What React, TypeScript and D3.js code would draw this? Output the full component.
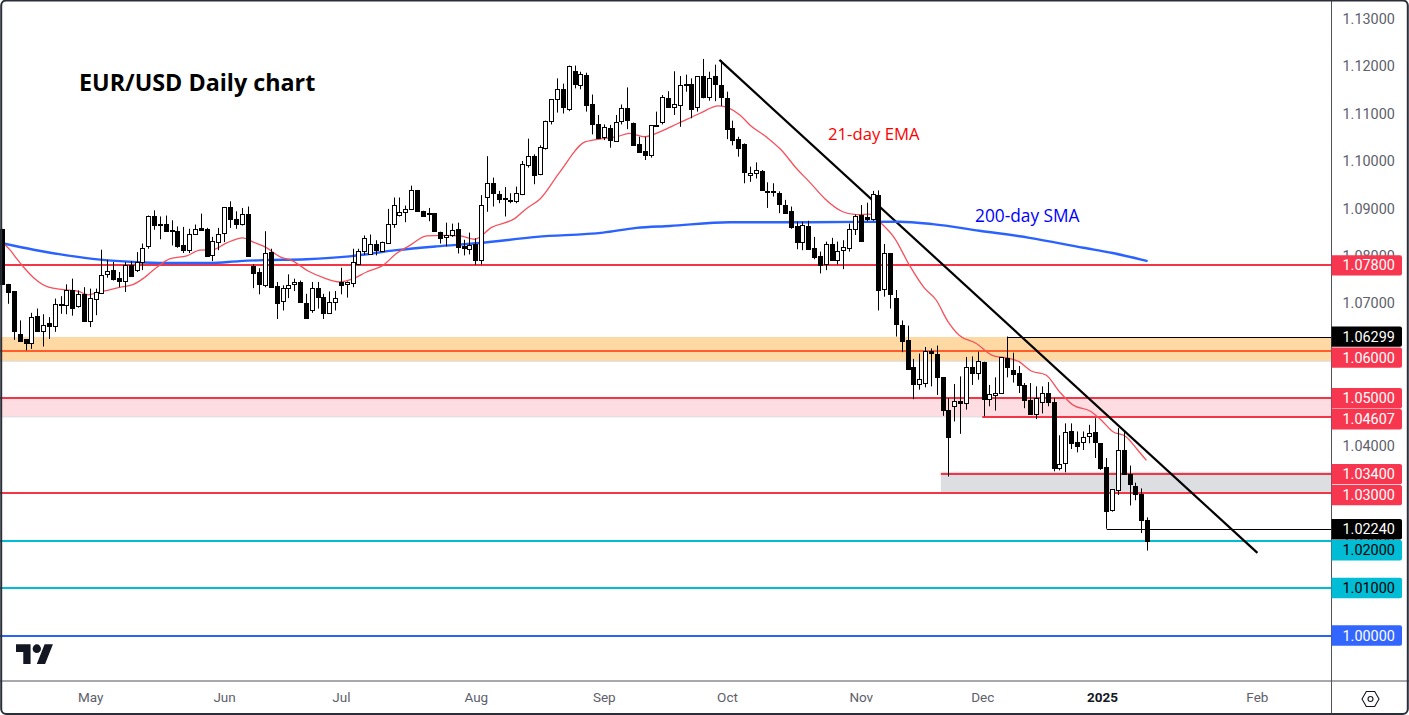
import * as d3 from "d3";
import React, { useEffect, useRef } from "react";

// daily candles, one per trading day
const opens = [
    1.0857,1.0741,1.0725,1.0636,1.0624,1.0616,1.0673,1.0642,1.0659,1.0652,
    1.0699,1.0697,1.0729,1.0694,1.0720,1.0663,1.0710,1.0722,1.0762,1.0771,
    1.0754,1.0747,1.0781,1.0771,1.0788,1.0821,1.0883,1.0868,1.0868,1.0855,
    1.0853,1.0822,1.0813,1.0847,1.0859,1.0857,1.0802,1.0831,1.0849,1.0904,
    1.0878,1.0868,1.0889,1.0778,1.0765,1.0739,1.0809,1.0737,1.0705,1.0733,
    1.0739,1.0744,1.0701,1.0687,1.0732,1.0713,1.0680,1.0703,1.0745,1.0739,
    1.0743,1.0783,1.0811,1.0802,1.0824,1.0811,1.0827,1.0868,1.0887,1.0893,
    1.0897,1.0938,1.0895,1.0890,1.0890,1.0851,1.0841,1.0845,1.0857,1.0820,
    1.0815,1.0824,1.0793,1.0923,1.0953,1.0930,1.0921,1.0917,1.0916,1.0930,
    1.0991,1.1011,1.0972,1.1029,1.1083,1.1130,1.1151,1.1111,1.1189,1.1161,
    1.1182,1.1119,1.1077,1.1049,1.1069,1.1043,1.1083,1.1111,1.1081,1.1036,
    1.1020,1.1012,1.1075,1.1081,1.1132,1.1112,1.1118,1.1163,1.1163,1.1114,
    1.1178,1.1134,1.1179,1.1161,1.1132,1.1069,1.1047,1.1035,1.0970,1.0974,
    1.0978,1.0937,1.0937,1.0932,1.0908,1.0894,1.0863,1.0830,1.0863,1.0816,
    1.0799,1.0783,1.0826,1.0793,1.0811,1.0816,1.0856,1.0886,1.0882,1.0878,
    1.0928,1.0730,1.0806,1.0711,1.0654,1.0622,1.0565,1.0530,1.0531,1.0599,
    1.0593,1.0544,1.0475,1.0483,1.0494,1.0490,1.0566,1.0553,1.0577,1.0498,
    1.0506,1.0511,1.0585,1.0560,1.0553,1.0527,1.0497,1.0468,1.0490,1.0511,
    1.0492,1.0353,1.0362,1.0430,1.0408,1.0409,1.0419,1.0429,1.0405,1.0355,
    1.0263,1.0307,1.0391,1.0340,1.0315,1.0299,1.0243,
];
const closes = [
    1.0741,1.0724,1.0640,1.0622,1.0616,1.0671,1.0642,1.0655,1.0652,1.0699,
    1.0699,1.0729,1.0691,1.0720,1.0663,1.0712,1.0724,1.0760,1.0769,1.0753,
    1.0747,1.0781,1.0758,1.0788,1.0817,1.0885,1.0865,1.0868,1.0854,1.0853,
    1.0821,1.0812,1.0847,1.0857,1.0854,1.0800,1.0831,1.0847,1.0903,1.0878,
    1.0868,1.0889,1.0800,1.0764,1.0739,1.0807,1.0736,1.0701,1.0733,1.0739,
    1.0744,1.0701,1.0669,1.0733,1.0713,1.0680,1.0703,1.0712,1.0739,1.0744,
    1.0788,1.0811,1.0838,1.0824,1.0812,1.0830,1.0868,1.0908,1.0893,1.0899,
    1.0938,1.0894,1.0884,1.0889,1.0852,1.0838,1.0845,1.0855,1.0819,1.0815,
    1.0823,1.0790,1.0908,1.0953,1.0931,1.0920,1.0920,1.0917,1.0932,1.0993,
    1.1011,1.0972,1.1029,1.1085,1.1130,1.1151,1.1113,1.1201,1.1161,1.1184,
    1.1118,1.1076,1.1047,1.1071,1.1043,1.1083,1.1111,1.1085,1.1035,1.1019,
    1.1012,1.1075,1.1076,1.1134,1.1112,1.1119,1.1161,1.1163,1.1110,1.1179,
    1.1133,1.1175,1.1162,1.1135,1.1067,1.1044,1.1029,1.0975,1.0974,1.0980,
    1.0937,1.0937,1.0936,1.0908,1.0891,1.0861,1.0830,1.0866,1.0814,1.0798,
    1.0781,1.0826,1.0793,1.0811,1.0818,1.0856,1.0883,1.0832,1.0878,1.0930,
    1.0728,1.0806,1.0719,1.0656,1.0621,1.0560,1.0530,1.0540,1.0599,1.0594,
    1.0544,1.0474,1.0419,1.0494,1.0490,1.0565,1.0554,1.0578,1.0498,1.0508,
    1.0511,1.0587,1.0567,1.0551,1.0527,1.0495,1.0468,1.0501,1.0510,1.0491,
    1.0353,1.0362,1.0428,1.0405,1.0400,1.0419,1.0426,1.0407,1.0353,1.0263,
    1.0308,1.0391,1.0340,1.0319,1.0299,1.0245,1.0199,
];
const highs = [
    1.0857,1.0741,1.0725,1.0664,1.0624,1.0680,1.0689,1.0677,1.0671,1.0710,
    1.0715,1.0740,1.0752,1.0727,1.0734,1.0731,1.0731,1.0813,1.0792,1.0787,
    1.0766,1.0787,1.0789,1.0808,1.0826,1.0885,1.0896,1.0883,1.0885,1.0875,
    1.0862,1.0861,1.0857,1.0866,1.0889,1.0859,1.0840,1.0859,1.0903,1.0915,
    1.0894,1.0901,1.0904,1.0782,1.0774,1.0852,1.0815,1.0745,1.0738,1.0761,
    1.0752,1.0748,1.0720,1.0745,1.0745,1.0720,1.0725,1.0726,1.0775,1.0746,
    1.0815,1.0815,1.0843,1.0845,1.0833,1.0830,1.0899,1.0923,1.0923,1.0906,
    1.0948,1.0939,1.0895,1.0901,1.0890,1.0851,1.0870,1.0868,1.0870,1.0834,
    1.0849,1.0837,1.0928,1.1010,1.0965,1.0937,1.0945,1.0932,1.0946,1.1000,
    1.1047,1.1014,1.1033,1.1085,1.1130,1.1174,1.1163,1.1201,1.1201,1.1188,
    1.1186,1.1140,1.1097,1.1077,1.1076,1.1097,1.1119,1.1155,1.1081,1.1051,
    1.1051,1.1075,1.1104,1.1139,1.1147,1.1189,1.1179,1.1182,1.1174,1.1179,
    1.1215,1.1188,1.1203,1.1212,1.1146,1.1085,1.1051,1.1037,1.0988,1.0997,
    1.0981,1.0955,1.0953,1.0936,1.0918,1.0904,1.0872,1.0872,1.0874,1.0840,
    1.0809,1.0830,1.0838,1.0830,1.0833,1.0868,1.0887,1.0907,1.0912,1.0937,
    1.0938,1.0825,1.0806,1.0728,1.0664,1.0653,1.0583,1.0594,1.0608,1.0605,
    1.0611,1.0544,1.0500,1.0530,1.0546,1.0587,1.0588,1.0598,1.0577,1.0528,
    1.0544,1.0587,1.0630,1.0596,1.0568,1.0532,1.0532,1.0525,1.0525,1.0534,
    1.0500,1.0422,1.0447,1.0447,1.0430,1.0430,1.0444,1.0458,1.0405,1.0374,
    1.0308,1.0437,1.0433,1.0358,1.0322,1.0310,1.0249,
];
const lows = [
    1.0741,1.0699,1.0623,1.0622,1.0601,1.0604,1.0642,1.0609,1.0625,1.0640,
    1.0678,1.0677,1.0674,1.0691,1.0663,1.0650,1.0675,1.0722,1.0754,1.0748,
    1.0734,1.0724,1.0758,1.0766,1.0770,1.0815,1.0855,1.0835,1.0854,1.0822,
    1.0817,1.0806,1.0806,1.0845,1.0854,1.0800,1.0789,1.0812,1.0829,1.0859,
    1.0857,1.0864,1.0800,1.0732,1.0719,1.0734,1.0733,1.0667,1.0685,1.0711,
    1.0726,1.0701,1.0669,1.0680,1.0689,1.0667,1.0678,1.0685,1.0719,1.0712,
    1.0734,1.0780,1.0802,1.0802,1.0801,1.0811,1.0827,1.0859,1.0883,1.0871,
    1.0897,1.0894,1.0884,1.0873,1.0852,1.0826,1.0820,1.0840,1.0805,1.0801,
    1.0803,1.0781,1.0782,1.0893,1.0904,1.0911,1.0883,1.0911,1.0911,1.0928,
    1.0986,1.0951,1.0970,1.1024,1.1077,1.1102,1.1100,1.1105,1.1153,1.1151,
    1.1104,1.1056,1.1047,1.1044,1.1028,1.1040,1.1077,1.1067,1.1035,1.1019,
    1.1002,1.1007,1.1073,1.1077,1.1112,1.1097,1.1072,1.1146,1.1090,1.1104,
    1.1132,1.1127,1.1126,1.1116,1.1046,1.1033,1.1009,1.0953,1.0956,1.0963,
    1.0937,1.0901,1.0925,1.0890,1.0890,1.0857,1.0814,1.0812,1.0814,1.0793,
    1.0763,1.0770,1.0793,1.0782,1.0772,1.0809,1.0844,1.0832,1.0873,1.0874,
    1.0685,1.0714,1.0689,1.0630,1.0597,1.0560,1.0498,1.0518,1.0523,1.0525,
    1.0507,1.0463,1.0335,1.0451,1.0425,1.0476,1.0528,1.0539,1.0462,1.0483,
    1.0474,1.0511,1.0544,1.0533,1.0511,1.0479,1.0465,1.0456,1.0468,1.0483,
    1.0346,1.0348,1.0344,1.0393,1.0386,1.0391,1.0405,1.0374,1.0349,1.0225,
    1.0261,1.0296,1.0339,1.0274,1.0285,1.0216,1.0179,
];

// moving averages, read at the bar position given by the matching index array
const emaBars = [0.15,1.3,2.4,3.6,5.3,7.85,10.4,13,14.7,16.1,17.8,19.8,22.4,24,26.4,28.7,31.5,33.8,36,38.3,41.1,42.9,44.9,47.5,49.7,52.3,54.9,57.7,60,62.3,65.1,67.4,69.7,72.6,75.4,78.3,80.8,83.7,87.7,89.7,92,95.4,99.7,102.8,105.1,107.3,109.9,112.8,115.6,119.3,122.5,126.2,127.9,130.7,133.3,135.9,138.1,140.7,143.8,146.1,148.4,150.7,152.7,155.2,157.8,159.8,161.8,163.8,166.6,169.5,172.3,174,176,178.6,180.9,183.2,186.3,188.3,190,192.3,194.3,195.8];
const emaValues = [1.0826,1.0812,1.0794,1.0776,1.0754,1.0734,1.0729,1.0725,1.0718,1.0722,1.0727,1.0733,1.0740,1.0752,1.0776,1.0794,1.0800,1.0812,1.0813,1.0827,1.0838,1.0829,1.0819,1.0798,1.0789,1.0768,1.0754,1.0745,1.0752,1.0766,1.0780,1.0805,1.0822,1.0842,1.0843,1.0842,1.0835,1.0860,1.0879,1.0900,1.0920,1.0977,1.1040,1.1047,1.1051,1.1058,1.1051,1.1063,1.1079,1.1100,1.1116,1.1097,1.1076,1.1051,1.1023,1.0984,1.0956,1.0921,1.0893,1.0887,1.0888,1.0865,1.0837,1.0781,1.0732,1.0707,1.0662,1.0632,1.0616,1.0590,1.0584,1.0577,1.0558,1.0549,1.0514,1.0486,1.0472,1.0451,1.0430,1.0419,1.0391,1.0369];
const smaBars = [0.15,5.3,11,16.7,22.4,28.1,35.5,40.6,44.6,52,59.4,67.4,74.3,81.7,91.4,102.8,108.5,114.2,124.4,138.1,153.5,159.2,167.2,175.8,185,190,196];
const smaValues = [1.0826,1.0813,1.0801,1.0792,1.0787,1.0785,1.0785,1.0789,1.0791,1.0793,1.0799,1.0812,1.0820,1.0827,1.0840,1.0849,1.0859,1.0863,1.0871,1.0871,1.0872,1.0867,1.0853,1.0838,1.0817,1.0806,1.0789];

// horizontal levels and their tags on the price scale
const levelPrices = [1.078, 1.06299, 1.06, 1.05, 1.04607, 1.034, 1.03, 1.0224, 1.02, 1.01, 1.0];
const levelLabels = ["1.07800", "1.06299", "1.06000", "1.05000", "1.04607", "1.03400", "1.03000", "1.02240", "1.02000", "1.01000", "1.00000"];
const levelStartBars = [-2, 172, -2, -2, 167.7, 160.6, -2, 189, -2, -2, -2];
const levelKinds = ["red", "black", "orange", "red", "red", "red", "red", "black", "cyan", "cyan", "blue"];

const zoneTops = [1.0629, 1.05, 1.0345];
const zoneBottoms = [1.0578, 1.04607, 1.03];
const zoneStartBars = [-2, -2, 160.6];
const zoneFills = ["#fed9a3", "#fddde1", "#dcdee2"];

const trendBars = [122.7, 214.8];
const trendPrices = [1.1213, 1.0174];

// 1.06, 1.05, 1.03, 1.01 and 1.00 sit fully behind the level tags
const priceTicks = [1.13, 1.12, 1.11, 1.10, 1.09, 1.08, 1.07, 1.04, 1.02];
const monthLabels = ["May", "Jun", "Jul", "Aug", "Sep", "Oct", "Nov", "Dec", "2025", "Feb"];
const monthBars = [15, 37.9, 57.9, 81, 102.9, 124, 146.9, 167.7, 188.2, 214.7];

const kindColors: any = {
    red: "#f23645",
    black: "#000000",
    orange: "#ff5d2b",
    cyan: "#00bcd4",
    blue: "#2962ff",
};
const tagFill = (kind: string) => (kind === "red" || kind === "orange" ? "#f7374f" : kind === "blue" ? "#3366ff" : kindColors[kind]);
const tagText = (kind: string) => (kind === "cyan" ? "#000000" : "#ffffff");

const WIDTH = 1409;
const HEIGHT = 715;
const PLOT_RIGHT = 1331.5;
const PLOT_BOTTOM = 681;
const UI_FONT = "Roboto, 'Liberation Sans', sans-serif";

export default function App() {
    const svgRef = useRef<SVGSVGElement>(null);

    useEffect(() => {
        document.body.style.margin = "0";
        const svg = d3.select(svgRef.current);
        svg.selectAll("*").remove();

        const x = d3.scaleLinear().domain([1, 196]).range([8.5, 1147.6]);
        const y = d3.scaleLinear().domain([1.0, 1.13]).range([635.5, 18.6]);

        svg.append("defs").append("clipPath").attr("id", "plot")
            .append("rect").attr("x", 0).attr("y", 0).attr("width", PLOT_RIGHT).attr("height", PLOT_BOTTOM);
        const plot = svg.append("g").attr("clip-path", "url(#plot)");

        /*
        zones and levels
         */
        zoneTops.forEach((top, i) => {
            plot.append("rect")
                .attr("x", x(zoneStartBars[i]))
                .attr("y", y(top))
                .attr("width", PLOT_RIGHT - x(zoneStartBars[i]))
                .attr("height", y(zoneBottoms[i]) - y(top))
                .attr("fill", zoneFills[i]);
            plot.append("line")
                .attr("x1", x(zoneStartBars[i])).attr("x2", PLOT_RIGHT)
                .attr("y1", y(zoneBottoms[i])).attr("y2", y(zoneBottoms[i]))
                .attr("stroke", "#d9dbe3");
        });
        levelPrices.forEach((price, i) => {
            const thin = levelKinds[i] === "black";
            const py = Math.round(y(price)) + (thin ? 0.5 : 0);
            plot.append("line")
                .attr("x1", x(levelStartBars[i])).attr("x2", PLOT_RIGHT)
                .attr("y1", py).attr("y2", py)
                .attr("stroke", kindColors[levelKinds[i]])
                .attr("stroke-width", thin ? 1 : 2);
        });

        /*
        trend line and moving averages
         */
        plot.append("line")
            .attr("x1", x(trendBars[0])).attr("y1", y(trendPrices[0]))
            .attr("x2", x(trendBars[1])).attr("y2", y(trendPrices[1]))
            .attr("stroke", "#000000").attr("stroke-width", 2.2);

        const drawAvg = (bars: number[], values: number[], color: string, width: number) => {
            const pts = bars.map((b, i) => [x(b), y(values[i])] as [number, number]);
            const path = d3.line().curve(d3.curveMonotoneX)(pts);
            plot.append("path").attr("d", path).attr("fill", "none")
                .attr("stroke", color).attr("stroke-width", width);
        };
        drawAvg(smaBars, smaValues, "#2962ff", 2.4);
        drawAvg(emaBars, emaValues, "#f6505c", 1.3);

        /*
        candles
         */
        const candles = plot.selectAll(".candle").data(opens).enter().append("g").attr("class", "candle");
        candles.append("rect")
            .attr("x", (_, i) => Math.floor(x(i)))
            .attr("width", 1)
            .attr("y", (_, i) => y(highs[i]))
            .attr("height", (_, i) => y(lows[i]) - y(highs[i]))
            .attr("fill", "#000000");
        candles.append("rect")
            .attr("x", (_, i) => Math.floor(x(i)) - 1.5)
            .attr("width", 4)
            .attr("y", (d, i) => Math.round(y(Math.max(d, closes[i]))) + 0.5)
            .attr("height", (d, i) => Math.max(1, Math.round(Math.abs(y(d) - y(closes[i])))))
            .attr("fill", (d, i) => (closes[i] >= d ? "#ffffff" : "#000000"))
            .attr("stroke", "#000000");

        /*
        axes
         */
        svg.append("rect").attr("x", PLOT_RIGHT).attr("y", 0).attr("width", WIDTH - PLOT_RIGHT).attr("height", HEIGHT).attr("fill", "#ffffff");

        const yAxis = d3.axisRight(y).tickValues(priceTicks).tickFormat(d3.format(".5f") as any).tickSize(0).tickPadding(11);
        const yG = svg.append("g").attr("transform", `translate(${PLOT_RIGHT},0)`).call(yAxis as any);
        yG.select(".domain").remove();
        yG.selectAll("text").attr("fill", "#5d606b").style("font", `14.4px ${UI_FONT}`);

        const xAxis = d3.axisBottom(x).tickValues(monthBars).tickFormat((_, i) => monthLabels[i]).tickSize(0).tickPadding(0);
        const xG = svg.append("g").attr("transform", `translate(0,${PLOT_BOTTOM + 11})`).call(xAxis as any);
        xG.select(".domain").remove();
        xG.selectAll("text")
            .attr("fill", (_, i) => (monthLabels[i] === "2025" ? "#131722" : "#5d606b"))
            .style("font", (_, i) => `${monthLabels[i] === "2025" ? "bold " : ""}13.5px ${UI_FONT}`);

        svg.append("line").attr("x1", PLOT_RIGHT).attr("x2", PLOT_RIGHT).attr("y1", 0).attr("y2", HEIGHT).attr("stroke", "#50535e");
        svg.append("line").attr("x1", 0).attr("x2", WIDTH).attr("y1", PLOT_BOTTOM).attr("y2", PLOT_BOTTOM).attr("stroke", "#50535e");

        /*
        price tags, pushed down when they would overlap
         */
        let lastBottom = -100;
        levelPrices.forEach((price, i) => {
            const centre = Math.max(y(price), lastBottom + 10.5);
            lastBottom = centre + 10.5;
            const kind = levelKinds[i];
            const path = d3.path();
            path.moveTo(PLOT_RIGHT, centre - 10.2);
            path.lineTo(1400, centre - 10.2);
            path.quadraticCurveTo(1402, centre - 10.2, 1402, centre - 8.2);
            path.lineTo(1402, centre + 8.2);
            path.quadraticCurveTo(1402, centre + 10.2, 1400, centre + 10.2);
            path.lineTo(PLOT_RIGHT, centre + 10.2);
            path.closePath();
            svg.append("path").attr("d", path.toString()).attr("fill", tagFill(kind));
            svg.append("text").attr("x", PLOT_RIGHT + 11).attr("y", centre).attr("dy", "0.35em")
                .attr("fill", tagText(kind)).style("font", `14.4px ${UI_FONT}`)
                .text(levelLabels[i]);
        });

        /*
        annotations
         */
        svg.append("text").attr("x", 79).attr("y", 91).attr("fill", "#000000")
            .style("font", "bold 23.3px 'Open Sans', sans-serif").text("EUR/USD Daily chart");
        svg.append("text").attr("x", 828).attr("y", 140).attr("fill", "#ff0000")
            .style("font", "500 16.7px 'Open Sans', sans-serif").text("21-day EMA");
        svg.append("text").attr("x", 975).attr("y", 222).attr("fill", "#0000ff")
            .style("font", "500 17.3px 'Open Sans', sans-serif").text("200-day SMA");

        /*
        logo and settings icon
         */
        const logo = svg.append("g").attr("transform", "translate(16,640) scale(1.04,1.09)").attr("fill", "#131722");
        logo.append("path").attr("d", "M14 22H7V11H0V4h14v18zM28 22h-8l7.5-18h8L28 22z");
        logo.append("circle").attr("cx", 20).attr("cy", 8).attr("r", 4);

        const hex = d3.line()([[1362, 699], [1366.3, 691.5], [1374.7, 691.5], [1379, 699], [1374.7, 706.5], [1366.3, 706.5]]);
        svg.append("path").attr("d", hex + "Z").attr("fill", "none").attr("stroke", "#131722").attr("stroke-width", 1.1);
        svg.append("circle").attr("cx", 1370.5).attr("cy", 699).attr("r", 2.5).attr("fill", "none").attr("stroke", "#131722").attr("stroke-width", 1.1);

        // outer frame of the screenshot
        svg.append("rect").attr("x", 1.2).attr("y", 0.5).attr("width", WIDTH - 2.4).attr("height", HEIGHT - 1.5).attr("rx", 5)
            .attr("fill", "none").attr("stroke", "#2a2e39").attr("stroke-width", 2);
    }, []);

    return <svg ref={svgRef} width={WIDTH} height={HEIGHT} style={{ display: "block" }} />;
}
